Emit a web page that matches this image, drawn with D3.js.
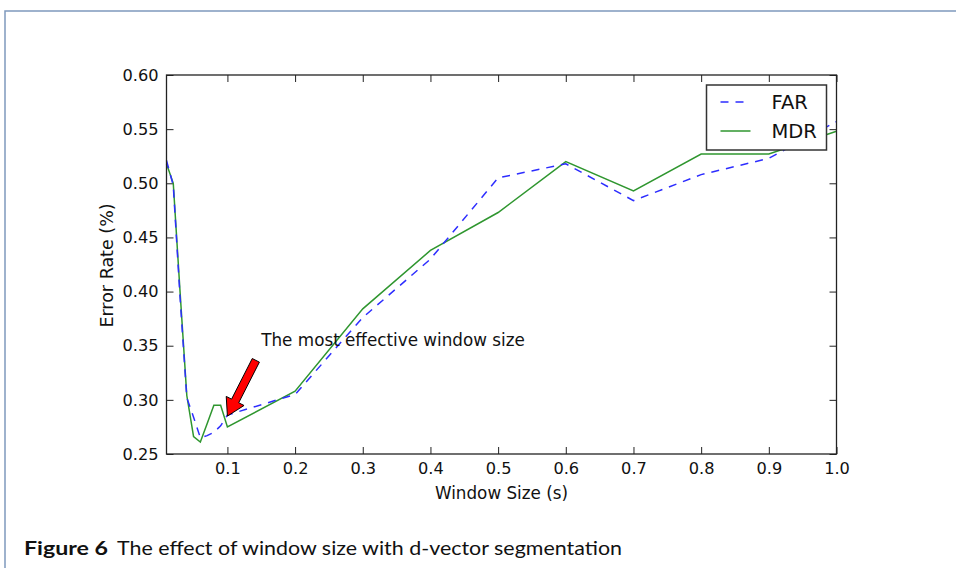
<!DOCTYPE html>
<html>
<head>
<meta charset="utf-8">
<script src="https://cdn.jsdelivr.net/npm/d3@7"></script>
<style>
  body { margin: 0; background: #fff; }
  svg text { font-family: "DejaVu Sans", sans-serif; fill: #111; }
</style>
</head>
<body>
<script>
const width = 956;
const height = 568;

// window sizes (s)
const windowSizes = [0.01, 0.02, 0.03, 0.04, 0.05, 0.06, 0.07, 0.08, 0.09, 0.1,
                     0.2, 0.3, 0.4, 0.5, 0.6, 0.7, 0.8, 0.9, 1.0];
const farValues = [0.521, 0.498, 0.395, 0.302, 0.284, 0.265, 0.267, 0.270, 0.276, 0.286,
                   0.305, 0.376, 0.430, 0.505, 0.518, 0.484, 0.508, 0.523, 0.557];
const mdrValues = [0.518, 0.500, 0.400, 0.304, 0.266, 0.261, 0.278, 0.295, 0.295, 0.275,
                   0.308, 0.384, 0.438, 0.473, 0.520, 0.493, 0.527, 0.527, 0.548];

const xTicks = [0.1, 0.2, 0.3, 0.4, 0.5, 0.6, 0.7, 0.8, 0.9, 1.0];
const yTicks = [0.25, 0.30, 0.35, 0.40, 0.45, 0.50, 0.55, 0.60];

const seriesNames = ["FAR", "MDR"];
const annotText = "The most effective window size";
const annotXY = [0.1, 0.285];
const annotTextXY = [0.15, 0.35];

const margin = {left: 166.5, right: 836.5, top: 75, bottom: 454};

const svg = d3.select("body")
      .append("svg")
      .attr("width", width)
      .attr("height", height);

// page frame
svg.append("path")
    .attr("d", "M5," + (height + 5) + "V11H" + (width + 5))
    .attr("fill", "none")
    .attr("stroke", "#7f99bd")
    .attr("stroke-width", 1.5);

const x = d3.scaleLinear().domain([0.01, 1.0]).range([margin.left, margin.right]);
const y = d3.scaleLinear().domain([0.25, 0.60]).range([margin.bottom, margin.top]);

const tick = 7;

const gx = svg.append("g")
      .attr("transform", `translate(0,${margin.bottom})`)
      .call(d3.axisBottom(x).tickValues(xTicks).tickFormat(d3.format(".1f"))
            .tickSize(-tick).tickPadding(8));
const gy = svg.append("g")
      .attr("transform", `translate(${margin.left},0)`)
      .call(d3.axisLeft(y).tickValues(yTicks).tickFormat(d3.format(".2f"))
            .tickSize(-tick).tickPadding(8));
const gt = svg.append("g")
      .attr("transform", `translate(0,${margin.top})`)
      .call(d3.axisTop(x).tickValues(xTicks).tickFormat("").tickSize(-tick));
const gr = svg.append("g")
      .attr("transform", `translate(${margin.right},0)`)
      .call(d3.axisRight(y).tickValues(yTicks).tickFormat("").tickSize(-tick));

[gx, gy, gt, gr].forEach(g => {
    g.select(".domain").remove();
    g.selectAll(".tick line").attr("stroke", "#222").attr("stroke-width", 1);
    g.selectAll("text").attr("font-size", 16.2).attr("fill", "#111")
	.style("font-family", "DejaVu Sans");
});

// series
const line = d3.line()
      .x((d, i) => x(windowSizes[i]))
      .y(d => y(d));

svg.append("path")
    .datum(mdrValues)
    .attr("fill", "none")
    .attr("stroke", "#2f962f")
    .attr("stroke-width", 1.5)
    .attr("d", line);

svg.append("path")
    .datum(farValues)
    .attr("fill", "none")
    .attr("stroke", "#2d2dff")
    .attr("stroke-width", 1.5)
    .attr("stroke-dasharray", "8,7")
    .attr("d", line);

// axes frame
svg.append("rect")
    .attr("x", margin.left)
    .attr("y", margin.top)
    .attr("width", margin.right - margin.left)
    .attr("height", margin.bottom - margin.top)
    .attr("fill", "none")
    .attr("stroke", "#222")
    .attr("stroke-width", 1.3);

// axis labels
svg.append("text")
    .attr("x", (margin.left + margin.right) / 2)
    .attr("y", 499)
    .attr("text-anchor", "middle")
    .attr("font-size", 16.8)
    .text("Window Size (s)");

svg.append("text")
    .attr("transform", `translate(113,${(margin.top + margin.bottom) / 2 + 1}) rotate(-90)`)
    .attr("text-anchor", "middle")
    .attr("font-size", 17.5)
    .text("Error Rate (%)");

// annotation
const tx = x(annotTextXY[0]), ty = y(annotTextXY[1]);
svg.append("text")
    .attr("x", tx)
    .attr("y", ty)
    .attr("font-size", 16.8)
    .text(annotText);

const tip = [x(annotXY[0]), y(annotXY[1])];
const from = [tx, ty + 4];
const tail = [from[0] + (tip[0] - from[0]) * 0.16, from[1] + (tip[1] - from[1]) * 0.16];
const len = Math.hypot(tip[0] - tail[0], tip[1] - tail[1]);
const ux = (tip[0] - tail[0]) / len, uy = (tip[1] - tail[1]) / len;
const nx = -uy, ny = ux;
const sw = 4, hw = 10, hl = 17;
const bx = tip[0] - ux * hl, by = tip[1] - uy * hl;
const arrowPts = [
    [tail[0] + nx * sw, tail[1] + ny * sw],
    [bx + nx * sw, by + ny * sw],
    [bx + nx * hw, by + ny * hw],
    tip,
    [bx - nx * hw, by - ny * hw],
    [bx - nx * sw, by - ny * sw],
    [tail[0] - nx * sw, tail[1] - ny * sw]
];
svg.append("path")
    .attr("d", "M" + arrowPts.map(p => p.join(",")).join("L") + "Z")
    .attr("fill", "#f00")
    .attr("stroke", "#000")
    .attr("stroke-width", 1);

// legend
const legend = svg.append("g").attr("transform", "translate(706.5,85)");
legend.append("rect")
    .attr("width", 120)
    .attr("height", 65)
    .attr("fill", "#fff")
    .attr("stroke", "#333")
    .attr("stroke-width", 1.5);

const legendStyles = [
    {color: "#2d2dff", dash: "8,7"},
    {color: "#2f962f", dash: null}
];
seriesNames.forEach((name, i) => {
    const ly = 17 + i * 29;
    legend.append("line")
	.attr("x1", 14).attr("x2", 44)
	.attr("y1", ly).attr("y2", ly)
	.attr("stroke", legendStyles[i].color)
	.attr("stroke-width", 1.5)
	.attr("stroke-dasharray", legendStyles[i].dash);
    legend.append("text")
	.attr("x", 65)
	.attr("y", ly + 7)
	.attr("font-size", 19.5)
	.text(name);
});

// caption
svg.append("text")
    .attr("x", 24)
    .attr("y", 555)
    .attr("font-size", 19)
    .attr("font-weight", "bold")
    .attr("textLength", 84)
    .attr("lengthAdjust", "spacingAndGlyphs")
    .style("font-family", "Lato, sans-serif")
    .text("Figure 6");

svg.append("text")
    .attr("x", 117)
    .attr("y", 555)
    .attr("font-size", 19)
    .attr("textLength", 505)
    .attr("lengthAdjust", "spacingAndGlyphs")
    .style("font-family", "Lato, sans-serif")
    .text("The effect of window size with d-vector segmentation");
</script>
</body>
</html>
